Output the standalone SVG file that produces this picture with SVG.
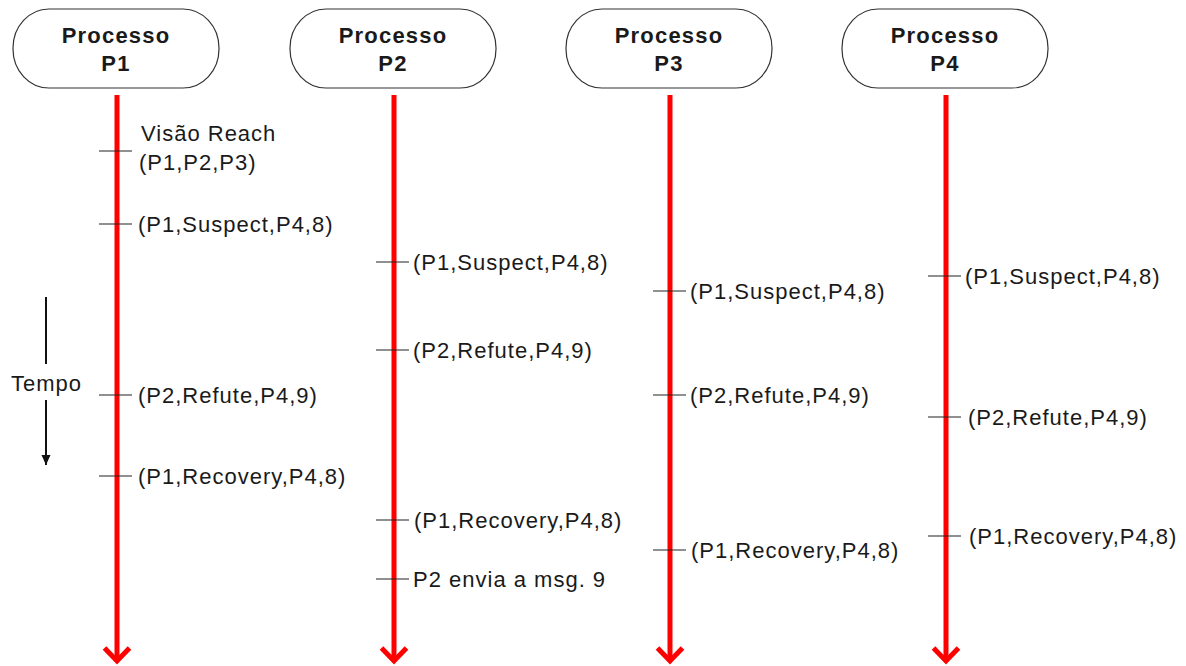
<svg xmlns="http://www.w3.org/2000/svg" width="1186" height="666" viewBox="0 0 1186 666">
  <style>
    .node { fill: #ffffff; stroke: #333333; stroke-width: 1.2; }
    .title { font-family: "Liberation Sans", Arial, sans-serif; font-size: 22px; font-weight: bold; fill: #1a1a1a; text-anchor: middle; letter-spacing: 1.2px; }
    .life { stroke: #ff0000; stroke-width: 5; fill: none; }
    .head { stroke: #ff0000; stroke-width: 5; fill: none; stroke-linejoin: miter; stroke-linecap: butt; }
    .tick { stroke: #222222; stroke-width: 1.2; }
    .lbl { font-family: "Liberation Sans", Arial, sans-serif; font-size: 22px; fill: #1a1a1a; letter-spacing: 1px; }
    .axis { stroke: #111111; stroke-width: 2; }
  </style>
  <defs>
    <!-- small filled head for the time axis, drawn along +x so orient="auto" turns it -->
    <marker id="timeHead" markerWidth="12" markerHeight="10" refX="10" refY="4.5" orient="auto" markerUnits="userSpaceOnUse">
      <path d="M0,0 L10,4.5 L0,9 Z" fill="#111111"/>
    </marker>
  </defs>

  <!-- process headers -->
  <g id="p1">
    <rect class="node" x="13" y="9" width="206" height="79" rx="36" ry="39"/>
    <text class="title" x="116" y="43">Processo</text>
    <text class="title" x="116" y="71">P1</text>
  </g>
  <g id="p2">
    <rect class="node" x="290" y="9" width="206" height="79" rx="36" ry="39"/>
    <text class="title" x="393" y="43">Processo</text>
    <text class="title" x="393" y="71">P2</text>
  </g>
  <g id="p3">
    <rect class="node" x="566" y="9" width="206" height="79" rx="36" ry="39"/>
    <text class="title" x="669" y="43">Processo</text>
    <text class="title" x="669" y="71">P3</text>
  </g>
  <g id="p4">
    <rect class="node" x="842" y="9" width="206" height="79" rx="36" ry="39"/>
    <text class="title" x="945" y="43">Processo</text>
    <text class="title" x="945" y="71">P4</text>
  </g>

  <!-- lifelines (time runs downward) -->
  <g id="connectors">
    <line class="life" x1="117" y1="95" x2="117" y2="661"/>
    <polyline class="head" points="104.5,648 117,661 129.5,648"/>
    <line class="life" x1="394" y1="95" x2="394" y2="661"/>
    <polyline class="head" points="381.5,648 394,661 406.5,648"/>
    <line class="life" x1="670" y1="95" x2="670" y2="661"/>
    <polyline class="head" points="657.5,648 670,661 682.5,648"/>
    <line class="life" x1="946" y1="95" x2="946" y2="661"/>
    <polyline class="head" points="933.5,648 946,661 958.5,648"/>
  </g>

  <!-- events on P1 -->
  <g id="events-p1">
    <line class="tick" x1="99" y1="151" x2="132" y2="151"/>
    <text class="lbl" x="141" y="141">Visão Reach</text>
    <text class="lbl" x="139" y="170">(P1,P2,P3)</text>
    <line class="tick" x1="99" y1="224" x2="132" y2="224"/>
    <text class="lbl" x="138" y="232">(P1,Suspect,P4,8)</text>
    <line class="tick" x1="99" y1="395" x2="132" y2="395"/>
    <text class="lbl" x="138" y="403">(P2,Refute,P4,9)</text>
    <line class="tick" x1="99" y1="476" x2="132" y2="476"/>
    <text class="lbl" x="138" y="484">(P1,Recovery,P4,8)</text>
  </g>

  <!-- events on P2 -->
  <g id="events-p2">
    <line class="tick" x1="376" y1="262" x2="409" y2="262"/>
    <text class="lbl" x="413" y="270">(P1,Suspect,P4,8)</text>
    <line class="tick" x1="376" y1="350" x2="409" y2="350"/>
    <text class="lbl" x="413" y="358">(P2,Refute,P4,9)</text>
    <line class="tick" x1="376" y1="520" x2="409" y2="520"/>
    <text class="lbl" x="414" y="528">(P1,Recovery,P4,8)</text>
    <line class="tick" x1="376" y1="579" x2="409" y2="579"/>
    <text class="lbl" x="413" y="587">P2 envia a msg. 9</text>
  </g>

  <!-- events on P3 -->
  <g id="events-p3">
    <line class="tick" x1="653" y1="291" x2="686" y2="291"/>
    <text class="lbl" x="690" y="299">(P1,Suspect,P4,8)</text>
    <line class="tick" x1="653" y1="395" x2="686" y2="395"/>
    <text class="lbl" x="690" y="403">(P2,Refute,P4,9)</text>
    <line class="tick" x1="653" y1="550" x2="686" y2="550"/>
    <text class="lbl" x="691" y="558">(P1,Recovery,P4,8)</text>
  </g>

  <!-- events on P4 -->
  <g id="events-p4">
    <line class="tick" x1="928" y1="276" x2="961" y2="276"/>
    <text class="lbl" x="965" y="284">(P1,Suspect,P4,8)</text>
    <line class="tick" x1="928" y1="417" x2="961" y2="417"/>
    <text class="lbl" x="968" y="425">(P2,Refute,P4,9)</text>
    <line class="tick" x1="928" y1="536" x2="961" y2="536"/>
    <text class="lbl" x="969" y="544">(P1,Recovery,P4,8)</text>
  </g>

  <!-- time axis -->
  <g id="tempo">
    <line class="axis" x1="46" y1="297" x2="46" y2="364"/>
    <line class="axis" x1="46" y1="400" x2="46" y2="465" marker-end="url(#timeHead)"/>
    <text class="lbl" x="11" y="391" letter-spacing="0.4">Tempo</text>
  </g>
</svg>
